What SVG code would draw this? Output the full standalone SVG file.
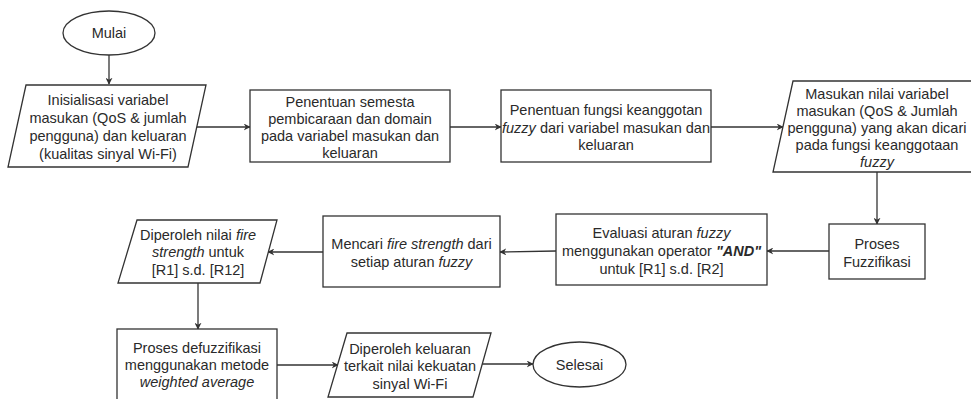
<svg xmlns="http://www.w3.org/2000/svg" width="971" height="399" viewBox="0 0 971 399">
  <defs>
    <style>
      .shape { fill: #ffffff; stroke: #333333; stroke-width: 1.3; }
      .edge { fill: none; stroke: #333333; stroke-width: 1.3; marker-end: url(#arrow); }
      text { font-family: "Liberation Sans", Arial, sans-serif; font-size: 14.5px; fill: #2a2a2a; text-anchor: middle; }
      .it { font-style: italic; }
      .bi { font-style: italic; font-weight: bold; }
    </style>
    <marker id="arrow" viewBox="0 0 10 10" refX="9" refY="5" markerWidth="7" markerHeight="7" markerUnits="userSpaceOnUse" orient="auto">
      <path d="M0,0 L10,5 L0,10 L3,5 Z" fill="#333333"/>
    </marker>
  </defs>
  <rect width="971" height="399" fill="#ffffff"/>

  <!-- connectors -->
  <g id="connectors">
    <line class="edge" x1="109" y1="55" x2="109" y2="84"/>
    <line class="edge" x1="197" y1="127" x2="250" y2="127"/>
    <line class="edge" x1="450" y1="127" x2="501" y2="127"/>
    <line class="edge" x1="711" y1="127" x2="783" y2="127"/>
    <line class="edge" x1="877" y1="172" x2="877" y2="224"/>
    <line class="edge" x1="829" y1="251" x2="767" y2="251"/>
    <line class="edge" x1="556" y1="251" x2="500" y2="252"/>
    <line class="edge" x1="323" y1="252" x2="268" y2="252"/>
    <line class="edge" x1="198" y1="283" x2="198" y2="329"/>
    <line class="edge" x1="277" y1="365" x2="338" y2="365"/>
    <line class="edge" x1="482" y1="364" x2="533" y2="364"/>
  </g>

  <g id="mulai">
    <ellipse class="shape" cx="109" cy="33" rx="46" ry="22"/>
    <text x="109" y="38">Mulai</text>
  </g>

  <g id="inisialisasi">
    <polygon class="shape" points="26,85 206,85 188,167 8,167"/>
    <text x="108" y="105">Inisialisasi variabel</text>
    <text x="108" y="123">masukan (QoS &amp; jumlah</text>
    <text x="108" y="141">pengguna) dan keluaran</text>
    <text x="108" y="159">(kualitas sinyal Wi-Fi)</text>
  </g>

  <g id="semesta">
    <rect class="shape" x="250" y="90" width="200" height="72"/>
    <text x="350" y="107">Penentuan semesta</text>
    <text x="350" y="124">pembicaraan dan domain</text>
    <text x="350" y="141">pada variabel masukan dan</text>
    <text x="350" y="158">keluaran</text>
  </g>

  <g id="fungsi-keanggotaan">
    <rect class="shape" x="501" y="90" width="210" height="72"/>
    <text x="606" y="115">Penentuan fungsi keanggotan</text>
    <text x="606" y="133"><tspan class="it">fuzzy</tspan> dari variabel masukan dan</text>
    <text x="606" y="150">keluaran</text>
  </g>

  <g id="masukan-nilai">
    <polygon class="shape" points="793,81 993,81 973,172 773,172"/>
    <text x="877" y="98.5">Masukan nilai variabel</text>
    <text x="877" y="115.5">masukan (QoS &amp; Jumlah</text>
    <text x="877" y="132.5">pengguna) yang akan dicari</text>
    <text x="877" y="150">pada fungsi keanggotaan</text>
    <text x="877" y="167" class="it">fuzzy</text>
  </g>

  <g id="fuzzifikasi">
    <rect class="shape" x="829" y="224" width="96" height="55"/>
    <text x="877" y="248.5">Proses</text>
    <text x="877" y="266.5">Fuzzifikasi</text>
  </g>

  <g id="evaluasi">
    <rect class="shape" x="556" y="214" width="211" height="71"/>
    <text x="661.5" y="237.5">Evaluasi aturan <tspan class="it">fuzzy</tspan></text>
    <text x="661.5" y="256">menggunakan operator <tspan class="bi">"AND"</tspan></text>
    <text x="661.5" y="274">untuk [R1] s.d. [R2]</text>
  </g>

  <g id="fire-strength">
    <rect class="shape" x="323" y="216" width="177" height="71"/>
    <text x="411.5" y="248.5">Mencari <tspan class="it">fire strength</tspan> dari</text>
    <text x="411.5" y="267">setiap aturan <tspan class="it">fuzzy</tspan></text>
  </g>

  <g id="hasil-fire-strength">
    <polygon class="shape" points="137,220 277,220 260,283 118,283"/>
    <text x="198" y="240">Diperoleh nilai <tspan class="it">fire</tspan></text>
    <text x="198" y="257"><tspan class="it">strength</tspan> untuk</text>
    <text x="198" y="275">[R1] s.d. [R12]</text>
  </g>

  <g id="defuzzifikasi">
    <rect class="shape" x="117" y="329" width="160" height="80"/>
    <text x="197" y="353">Proses defuzzifikasi</text>
    <text x="197" y="370">menggunakan metode</text>
    <text x="197" y="387" class="it">weighted average</text>
  </g>

  <g id="keluaran">
    <polygon class="shape" points="347,333 491,333 473,397 328,397"/>
    <text x="410" y="353.5">Diperoleh keluaran</text>
    <text x="410" y="371">terkait nilai kekuatan</text>
    <text x="410" y="388.5">sinyal Wi-Fi</text>
  </g>

  <g id="selesai">
    <ellipse class="shape" cx="579.5" cy="364.5" rx="46.5" ry="22.5"/>
    <text x="579.5" y="369.5">Selesai</text>
  </g>
</svg>
